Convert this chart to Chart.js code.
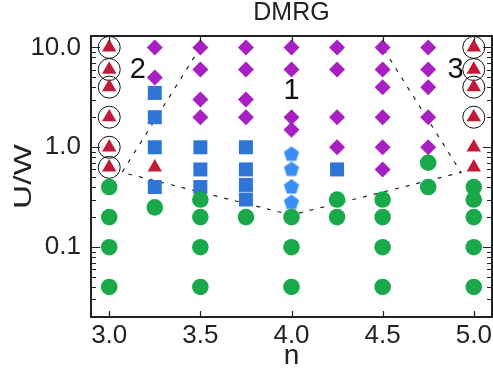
<!DOCTYPE html>
<html>
<head>
<meta charset="utf-8">
<script src="https://cdn.jsdelivr.net/npm/chart.js@4.4.0/dist/chart.umd.min.js"></script>
<style>
    html, body { margin: 0; padding: 0; background: #fff; }
    #wrap { width: 493px; height: 373px; }
</style>
</head>
<body>
<div id="wrap"><canvas id="dmrg-phase"></canvas></div>
<script>
// green circles
var greenN = [3.0, 3.0, 3.0, 3.0, 3.25, 3.5, 3.5, 3.5, 3.5, 3.75, 4.0, 4.0, 4.0, 4.25, 4.25, 4.5, 4.5, 4.5, 4.5, 4.75, 4.75, 5.0, 5.0, 5.0, 5.0, 5.0];
var greenU = [0.4, 0.2, 0.1, 0.04, 0.25, 0.3, 0.2, 0.1, 0.04, 0.2, 0.2, 0.1, 0.04, 0.3, 0.2, 0.3, 0.2, 0.1, 0.04, 0.7, 0.4, 0.4, 0.3, 0.2, 0.1, 0.04];
// purple diamonds
var diamondN = [3.25, 3.25, 3.5, 3.5, 3.5, 3.5, 3.75, 3.75, 3.75, 3.75, 4.0, 4.0, 4.0, 4.0, 4.25, 4.25, 4.25, 4.25, 4.5, 4.5, 4.5, 4.5, 4.5, 4.5, 4.75, 4.75, 4.75, 4.75, 4.75];
var diamondU = [10, 5, 10, 6, 3, 2, 10, 6, 3, 2, 10, 6, 2, 1.5, 10, 6, 2, 1.0, 10, 6, 4, 2, 1.0, 0.6, 10, 6, 4, 2, 1.0];
// blue squares
var squareN = [3.25, 3.25, 3.25, 3.25, 3.5, 3.5, 3.5, 3.75, 3.75, 3.75, 3.75, 4.25];
var squareU = [3.5, 2, 1.0, 0.4, 1.0, 0.6, 0.4, 1.0, 0.6, 0.42, 0.3, 0.6];
// blue pentagons
var pentN = [4.0, 4.0, 4.0, 4.0];
var pentU = [0.85, 0.6, 0.4, 0.28];
// red triangles
var triN = [3.0, 3.0, 3.0, 3.0, 3.0, 3.0, 3.25, 5.0, 5.0, 5.0, 5.0, 5.0, 5.0];
var triU = [10, 6, 4, 2, 1.0, 0.63, 0.63, 10, 6, 4, 2, 1.0, 0.63];
// open black circles
var ringN = [3.0, 3.0, 3.0, 3.0, 3.0, 3.0, 5.0, 5.0, 5.0, 5.0];
var ringU = [10, 6, 4, 2, 1.0, 0.63, 10, 6, 4, 2];
// dashed phase boundary
var edgeN = [3.5, 3.07, 4.0, 4.93, 4.5];
var edgeU = [10, 0.56, 0.21, 0.56, 10];
// region numbers
var regionText = ["2", "1", "3"];
var regionN = [3.157, 4.0, 4.9];
var regionU = [6.0, 3.7, 5.95];

var xTicks = [3.0, 3.5, 4.0, 4.5, 5.0];
var yMajor = [0.1, 1, 10];
var yMinor = [0.02, 0.03, 0.04, 0.05, 0.06, 0.07, 0.08, 0.09, 0.2, 0.3, 0.4, 0.5, 0.6, 0.7, 0.8, 0.9, 2, 3, 4, 5, 6, 7, 8, 9];
var yTitle = "U/W";

var FONT = "'Liberation Sans', Arial, sans-serif";
var INK = "#222";

window.addEventListener("load", init);

function pts(xs, ys) {
    return xs.map(function (x, i) { return { x: x, y: ys[i] }; });
}

function makePentagon() {
    var c = document.createElement("canvas");
    c.width = 18;
    c.height = 18;
    var ctx = c.getContext("2d");
    var r = 8;
    ctx.beginPath();
    for (var i = 0; i < 5; i++) {
        var a = -Math.PI / 2 + i * 2 * Math.PI / 5;
        var px = 9 + r * Math.cos(a), py = 9 + r * Math.sin(a);
        if (i === 0) ctx.moveTo(px, py); else ctx.lineTo(px, py);
    }
    ctx.closePath();
    ctx.fillStyle = "#3a8ef7";
    ctx.fill();
    return c;
}

// frame + inward ticks on all four sides, region numbers, stretched y title
var framePlugin = {
    id: "frame",
    afterDatasetsDraw: function (chart) {
        var ctx = chart.ctx, xs = chart.scales.x, ys = chart.scales.y;
        ctx.save();
        ctx.fillStyle = "#111";
        ctx.font = "29px " + FONT;
        ctx.textAlign = "center";
        ctx.textBaseline = "middle";
        regionText.forEach(function (t, i) {
            ctx.fillText(t, xs.getPixelForValue(regionN[i]), ys.getPixelForValue(regionU[i]));
        });
        ctx.restore();
    },
    afterDraw: function (chart) {
        var ctx = chart.ctx, a = chart.chartArea;
        var xs = chart.scales.x, ys = chart.scales.y;
        ctx.save();
        ctx.strokeStyle = INK;
        ctx.lineWidth = 1.2;
        ctx.beginPath();
        xTicks.forEach(function (v) {
            var px = Math.round(xs.getPixelForValue(v)) + 0.5;
            ctx.moveTo(px, a.bottom); ctx.lineTo(px, a.bottom - 6);
            ctx.moveTo(px, a.top); ctx.lineTo(px, a.top + 6);
        });
        yMajor.concat(yMinor).forEach(function (v) {
            var len = yMajor.indexOf(v) >= 0 ? 9 : 5;
            var py = Math.round(ys.getPixelForValue(v)) + 0.5;
            ctx.moveTo(a.left, py); ctx.lineTo(a.left + len, py);
            ctx.moveTo(a.right, py); ctx.lineTo(a.right - len, py);
        });
        ctx.stroke();
        ctx.lineWidth = 2;
        ctx.strokeRect(a.left, a.top, a.right - a.left, a.bottom - a.top);

        // y title, wide letters like the original
        ctx.translate(25, (a.top + a.bottom) / 2);
        ctx.rotate(-Math.PI / 2);
        ctx.scale(1.45, 1);
        ctx.fillStyle = INK;
        ctx.font = "23px " + FONT;
        ctx.textAlign = "center";
        ctx.textBaseline = "middle";
        ctx.fillText(yTitle, 0, 0);
        ctx.restore();
    }
};

function init() {
    Chart.defaults.font.family = FONT;
    Chart.defaults.color = INK;

    var data = {
        datasets: [
            {
                label: "boundary",
                data: pts(edgeN, edgeU),
                showLine: true,
                borderColor: INK,
                borderWidth: 1.2,
                borderDash: [4, 7],
                pointRadius: 0,
                order: 10
            },
            {
                label: "metal",
                data: pts(greenN, greenU),
                pointStyle: "circle",
                pointRadius: 8.3,
                backgroundColor: "#19a84a",
                borderWidth: 0
            },
            {
                label: "diamond",
                data: pts(diamondN, diamondU),
                pointStyle: "rectRot",
                pointRadius: 8,
                backgroundColor: "#a81fc2",
                borderWidth: 0
            },
            {
                label: "square",
                data: pts(squareN, squareU),
                pointStyle: "rect",
                pointRadius: 9.9,
                backgroundColor: "#2f75d6",
                borderWidth: 0
            },
            {
                label: "pentagon",
                data: pts(pentN, pentU),
                pointStyle: makePentagon(),
                pointRadius: 8,
                backgroundColor: "#3a8ef7",
                borderWidth: 0
            },
            {
                label: "triangle",
                data: pts(triN, triU),
                pointStyle: "triangle",
                pointRadius: 8.3,
                backgroundColor: "#c21b3a",
                borderWidth: 0
            },
            {
                label: "ring",
                data: pts(ringN, ringU),
                pointStyle: "circle",
                pointRadius: 11,
                backgroundColor: "rgba(0,0,0,0)",
                borderColor: "#111",
                borderWidth: 1
            }
        ]
    };

    var config = {
        type: "scatter",
        data: data,
        options: {
            responsive: true,
            maintainAspectRatio: false,
            animation: false,
            layout: { autoPadding: false, padding: { right: 1, top: 0, left: 0, bottom: 0 } },
            plugins: {
                legend: { display: false },
                tooltip: { enabled: false },
                title: {
                    display: true,
                    fullSize: false,
                    text: "DMRG",
                    color: INK,
                    font: { size: 25, weight: "normal", lineHeight: 1.08 },
                    padding: { top: 0, bottom: 9 }
                }
            },
            scales: {
                x: {
                    type: "linear",
                    min: 2.9,
                    max: 5.1,
                    afterBuildTicks: function (s) {
                        s.ticks = xTicks.map(function (v) { return { value: v }; });
                    },
                    afterFit: function (s) {
                        s.height = 56;
                        s.paddingLeft = 0;
                        s.paddingRight = 0;
                    },
                    ticks: {
                        autoSkip: false,
                        maxRotation: 0,
                        padding: 3,
                        color: INK,
                        font: { size: 26 },
                        callback: function (v) { return Number(v).toFixed(1); }
                    },
                    grid: { display: false, drawTicks: false },
                    border: { display: false },
                    title: {
                        display: true,
                        text: "n",
                        color: INK,
                        font: { size: 28 },
                        padding: 0
                    }
                },
                y: {
                    type: "logarithmic",
                    min: 0.02,
                    max: 13,
                    afterBuildTicks: function (s) {
                        s.ticks = yMajor.concat(yMinor).sort(function (a, b) { return a - b; })
                            .map(function (v) { return { value: v }; });
                    },
                    afterFit: function (s) {
                        s.width = 91;
                        s.paddingTop = 0;
                        s.paddingBottom = 0;
                    },
                    ticks: {
                        autoSkip: false,
                        padding: 10,
                        color: INK,
                        font: { size: 26 },
                        callback: function (v) {
                            return yMajor.indexOf(v) >= 0 ? Number(v).toFixed(1) : "";
                        }
                    },
                    grid: { display: false, drawTicks: false },
                    border: { display: false },
                    title: { display: false }
                }
            }
        },
        plugins: [framePlugin]
    };
    var phaseChart = new Chart(document.getElementById("dmrg-phase"), config);
}
</script>
</body>
</html>
